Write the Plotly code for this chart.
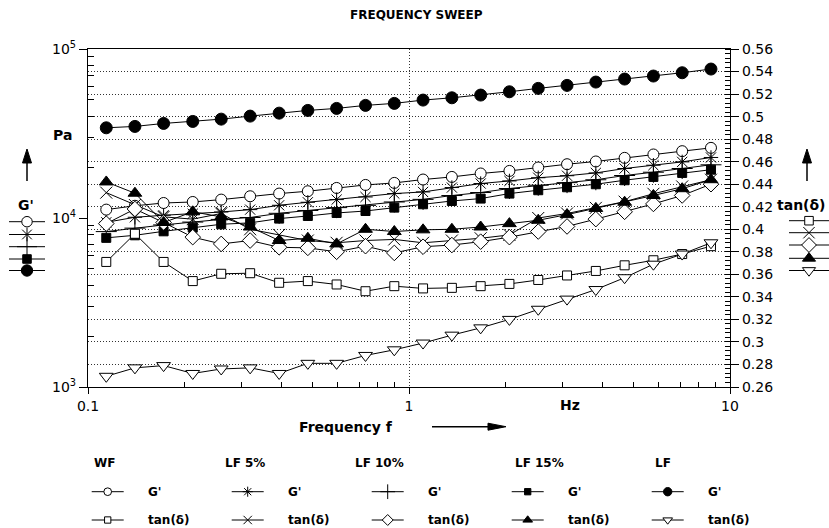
import plotly.graph_objects as go

# Oscillation frequency (Hz)
freq = [0.114, 0.140, 0.172, 0.212, 0.260, 0.320, 0.394, 0.484, 0.595, 0.732, 0.900,
        1.106, 1.360, 1.672, 2.055, 2.527, 3.107, 3.820, 4.696, 5.773, 7.096, 8.724]

# Storage modulus G' (Pa)
g_wf = [11210, 11810, 12270, 12440, 12850, 13450, 13950, 14400, 15060, 15690, 16130,
        16890, 17500, 18340, 18990, 19900, 20810, 21600, 22690, 23760, 24860, 26000]
g_lf5 = [9430, 10100, 10380, 10590, 10850, 11210, 11890, 12390, 12850, 13320, 13950,
         14260, 15140, 15990, 16570, 17310, 17790, 18480, 19630, 20530, 21480, 22810]
g_lf10 = [8310, 8710, 9100, 9460, 9810, 10070, 10660, 11080, 11520, 11880, 12440,
          12890, 13580, 14150, 14940, 15630, 16190, 16840, 17840, 18660, 19630, 20640]
g_lf15 = [7630, 7900, 8340, 8770, 9180, 9360, 9920, 10280, 10710, 11000, 11520,
          12060, 12610, 13030, 13950, 14600, 15200, 15840, 16730, 17500, 18480, 19310]
g_lf = [34170, 34820, 36270, 37270, 38460, 40070, 41740, 43310, 44510, 46380, 47660,
        49860, 51440, 53380, 55840, 58480, 60920, 63730, 66400, 69180, 72360, 76090]

# Loss factor tan(delta)
t_wf = [0.371, 0.396, 0.371, 0.354, 0.3605, 0.361, 0.3525, 0.354, 0.351, 0.345, 0.3495,
        0.3475, 0.348, 0.3495, 0.3515, 0.355, 0.359, 0.363, 0.368, 0.3725, 0.378, 0.385]
t_lf5 = [0.4325, 0.4215, 0.411, 0.409, 0.414, 0.400, 0.395, 0.390, 0.388, 0.390, 0.391,
         0.388, 0.390, 0.392, 0.395, 0.410, 0.414, 0.419, 0.4245, 0.4315, 0.438, 0.444]
t_lf10 = [0.405, 0.418, 0.406, 0.393, 0.387, 0.390, 0.384, 0.3835, 0.380, 0.385, 0.379,
          0.3845, 0.386, 0.389, 0.393, 0.398, 0.4025, 0.409, 0.4155, 0.4225, 0.430, 0.440]
t_lf15 = [0.442, 0.432, 0.406, 0.4155, 0.411, 0.402, 0.390, 0.392, 0.387, 0.400, 0.398,
          0.3995, 0.400, 0.402, 0.405, 0.408, 0.413, 0.4185, 0.424, 0.430, 0.436, 0.444]
t_lf = [0.2695, 0.277, 0.279, 0.272, 0.276, 0.277, 0.272, 0.281, 0.281, 0.288, 0.293,
        0.299, 0.306, 0.3125, 0.320, 0.329, 0.338, 0.3465, 0.357, 0.369, 0.378, 0.388]

samples = ["WF", "LF 5%", "LF 10%", "LF 15%", "LF"]
g_series = [g_wf, g_lf5, g_lf10, g_lf15, g_lf]
t_series = [t_wf, t_lf5, t_lf10, t_lf15, t_lf]

# marker styles: (symbol, fill, size)
g_styles = [("circle", "white", 11), ("asterisk-open", "black", 12), ("cross-thin-open", "black", 15),
            ("square", "black", 9), ("circle", "black", 12)]
t_styles = [("square", "white", 9), ("x-thin-open", "black", 12), ("diamond", "white", 12),
            ("triangle-up", "black", 12), ("triangle-down", "white", 12)]

W, H = 829, 528
L, R, T, B = 88, 730, 49, 387          # plot frame in pixels
FONT = "DejaVu Sans"


def px(x):
    return x / W


def py(y):
    return 1 - y / H


def marker(style, scale=1.0):
    sym, fill, size = style
    return dict(symbol=sym, color=fill, size=size * scale,
                line=dict(color="black", width=1))


fig = go.Figure()

for name, ys, st in zip(samples, g_series, g_styles):
    fig.add_trace(go.Scatter(x=freq, y=ys, mode="lines+markers", name=f"{name} G'",
                             line=dict(color="black", width=1), marker=marker(st),
                             xaxis="x", yaxis="y", showlegend=False))
for name, ys, st in zip(samples, t_series, t_styles):
    fig.add_trace(go.Scatter(x=freq, y=ys, mode="lines+markers", name=f"{name} tan(δ)",
                             line=dict(color="black", width=1), marker=marker(st),
                             xaxis="x", yaxis="y2", showlegend=False))

shapes = []
annotations = []


def text(s, x, y, size=14, anchor="center", bold=True):
    annotations.append(dict(text=f"<b>{s}</b>" if bold else s, x=px(x), y=py(y),
                            xref="paper", yref="paper", showarrow=False,
                            xanchor=anchor, yanchor="middle",
                            font=dict(family=FONT, size=size, color="black")))


def glyph(x0, x1, y, st, scale):
    # short line with the series marker in its middle, on a full-page pixel axis
    fig.add_trace(go.Scatter(x=[x0, x1], y=[y, y], mode="lines",
                             line=dict(color="black", width=1),
                             xaxis="x3", yaxis="y3", showlegend=False, hoverinfo="skip"))
    fig.add_trace(go.Scatter(x=[(x0 + x1) / 2], y=[y], mode="markers",
                             marker=marker(st, scale),
                             xaxis="x3", yaxis="y3", showlegend=False, hoverinfo="skip"))


# side keys next to the two value axes
left_rows = [221.7, 234.5, 246.7, 259, 270.5]
right_rows = [220.7, 232.7, 245, 258.3, 270.5]
for y, st in zip(left_rows, g_styles):
    glyph(9, 45, y, st, 0.95)
for y, st in zip(right_rows, t_styles):
    glyph(789, 829, y, st, 0.95)

# bottom key
col_line = [91.7, 231.7, 371.7, 511.7, 651.7]
col_head = [91.7, 223.3, 352.7, 512.7, 652.7]
row_g, row_t, row_head = 491.7, 520, 463
for i, name in enumerate(samples):
    x0 = col_line[i]
    glyph(x0, x0 + 32, row_g, g_styles[i], 0.7)
    glyph(x0, x0 + 32, row_t, t_styles[i], 0.7)
    text(name, col_head[i], row_head, size=12, anchor="left")
    text("G'", x0 + 54, row_g, size=12, anchor="left")
    text("tan(δ)", x0 + 54, row_t, size=12, anchor="left")


def path(points):
    d = "M " + " L ".join(f"{px(x):.5f},{py(y):.5f}" for x, y in points) + " Z"
    shapes.append(dict(type="path", xref="paper", yref="paper", path=d,
                       fillcolor="black", line=dict(color="black", width=1)))


# direction arrows
for ax in (27, 807):
    shapes.append(dict(type="line", xref="paper", yref="paper", x0=px(ax), x1=px(ax),
                       y0=py(181), y1=py(160), line=dict(color="black", width=1.5)))
    path([(ax - 4.5, 163), (ax + 4.5, 163), (ax, 149)])
shapes.append(dict(type="line", xref="paper", yref="paper", x0=px(432), x1=px(492),
                   y0=py(426.7), y1=py(426.7), line=dict(color="black", width=1.5)))
path([(488, 423.2), (488, 430.2), (506, 426.7)])

# labels
text("FREQUENCY SWEEP", 416, 15, size=12)
text("Pa", 63, 135)
text("G'", 26, 205)
text("tan(δ)", 775, 205, anchor="left")
text("Hz", 570, 405)
text("Frequency f", 346, 427)

tick_font = dict(family=FONT, size=14, color="black")
grid = dict(showgrid=True, gridcolor="#333333", gridwidth=1, griddash="1px,2px")
xdom = [L / W, R / W]
ydom = [1 - B / H, 1 - T / H]
frame = dict(showline=True, linecolor="black", linewidth=1.3, zeroline=False,
             tickfont=tick_font, automargin=False, tickcolor="black", tickwidth=1.2)

fig.update_layout(
    width=W, height=H,
    margin=dict(l=0, r=0, t=0, b=0, pad=0, autoexpand=False),
    paper_bgcolor="white", plot_bgcolor="rgba(0,0,0,0)",
    showlegend=False,
    shapes=shapes, annotations=annotations,
    xaxis=dict(domain=xdom, anchor="y", type="log", range=[-1, 1], tickmode="array",
               tickvals=[0.1, 1, 10], ticktext=["0.1", "1", "10"],
               ticks="outside", ticklen=6, mirror=True,
               minor=dict(tickmode="array",
                          tickvals=[0.2, 0.3, 0.4, 0.5, 0.6, 0.7, 0.8, 0.9,
                                    2, 3, 4, 5, 6, 7, 8, 9],
                          ticks="inside", ticklen=5, tickcolor="black", showgrid=False),
               **grid, **frame),
    yaxis=dict(domain=ydom, anchor="x", type="log", range=[3, 5], tickmode="array",
               tickvals=[1e3, 1e4, 1e5],
               ticktext=["10<sup>3</sup>", "10<sup>4</sup>", "10<sup>5</sup>"],
               ticks="outside", ticklen=8, showgrid=False,
               minor=dict(tickmode="array",
                          tickvals=[2e3, 3e3, 4e3, 5e3, 6e3, 7e3, 8e3, 9e3,
                                    2e4, 3e4, 4e4, 5e4, 6e4, 7e4, 8e4, 9e4],
                          ticks="inside", ticklen=6, tickcolor="black", showgrid=False),
               **frame),
    yaxis2=dict(overlaying="y", anchor="x", side="right", range=[0.26, 0.56],
                tick0=0.26, dtick=0.02, ticks="outside", ticklen=8,
                minor=dict(tick0=0.26, dtick=0.004, ticks="inside", ticklen=5,
                           tickcolor="black", showgrid=False),
                **grid, **frame),
    xaxis3=dict(domain=[0, 1], anchor="y3", range=[0, W], visible=False,
                fixedrange=True, automargin=False),
    yaxis3=dict(domain=[0, 1], anchor="x3", range=[H, 0], visible=False,
                fixedrange=True, automargin=False),
)

fig.write_html("out.html")
